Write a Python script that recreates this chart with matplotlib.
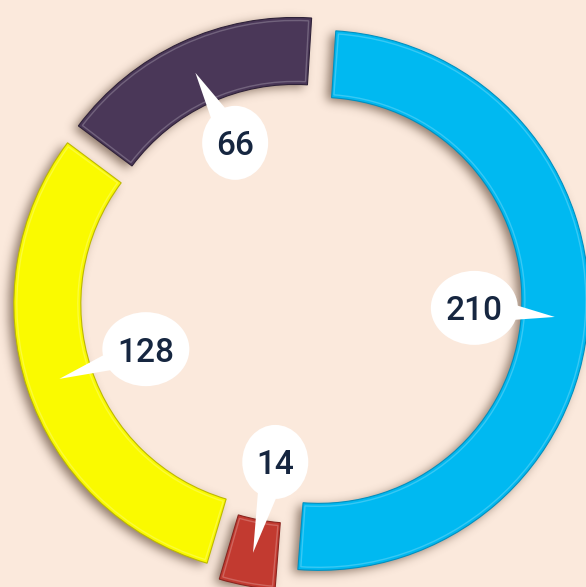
import matplotlib
matplotlib.use("Agg")
import matplotlib.pyplot as plt
import numpy as np
from matplotlib.patches import Wedge, Ellipse, Polygon

# ---- data ----
labels = ["210", "14", "128", "66"]
values = [210, 14, 128, 66]
colors = ["#00B9F1", "#C23A30", "#FAFA00", "#4A3758"]
edge_colors = ["#0090C0", "#8A2520", "#BDB800", "#2F2239"]
explode = [0.07, 0.08, 0.063, 0.047]

BG = "#FBE9DC"
TEXT = "#162640"
W, H = 586, 587
px = 1 / 270.0          # one pixel in data units (outer radius = 270 px)
cx0, cy0 = 300, 299     # pie centre in pixels

fig = plt.figure(figsize=(W / 100, H / 100), dpi=100, facecolor=BG)
ax = fig.add_axes([0, 0, 1, 1])
ax.set_facecolor(BG)

ring_w = 0.248
wedges, _ = ax.pie(values, colors=colors, startangle=86.4, counterclock=False,
                   explode=explode, radius=1.0,
                   wedgeprops=dict(width=ring_w, linewidth=0.8))
for w, ec in zip(wedges, edge_colors):
    w.set_edgecolor(ec)
    w.set_zorder(3)

xmin, xmax = -cx0 * px, (W - cx0) * px
ymin, ymax = -(H - cy0) * px, cy0 * px

# soft blurred drop shadow (raster), computed from the wedge geometry
xs = xmin + (np.arange(W) + 0.5) * px
ys = ymax - (np.arange(H) + 0.5) * px
XX, YY = np.meshgrid(xs, ys)
mask = np.zeros((H, W))
sdx, sdy = -5 * px, -3 * px
for w in wedges:
    c = w.center
    dx = XX - (c[0] + sdx)
    dy = YY - (c[1] + sdy)
    r = np.hypot(dx, dy)
    ang = np.degrees(np.arctan2(dy, dx))
    rel = (ang - w.theta1) % 360
    inside = (r <= w.r) & (r >= w.r - w.width) & (rel <= (w.theta2 - w.theta1))
    mask[inside] = 1.0

def blur(a, s):
    k = np.exp(-0.5 * (np.arange(-3 * s, 3 * s + 1) / s) ** 2)
    k /= k.sum()
    a = np.apply_along_axis(lambda m: np.convolve(m, k, mode="same"), 0, a)
    a = np.apply_along_axis(lambda m: np.convolve(m, k, mode="same"), 1, a)
    return a

sh = blur(mask, 5)
rgba = np.zeros((H, W, 4))
rgba[..., 0] = 0.33
rgba[..., 1] = 0.24
rgba[..., 2] = 0.18
rgba[..., 3] = sh * 0.65
ax.imshow(rgba, extent=(xmin, xmax, ymin, ymax), zorder=1, interpolation="bilinear")

for w in wedges:
    c = w.center
    hl = Wedge(c, w.r - 3 * px, w.theta1 + 0.6, w.theta2 - 0.6, width=w.width - 6 * px,
               facecolor="none", edgecolor="white", linewidth=1.0, alpha=0.22, zorder=4)
    ax.add_patch(hl)

# callout labels
lab_r = 0.625
ox, oy = 6 * px, 3 * px
for w, lab in zip(wedges, labels):
    mid = np.deg2rad((w.theta1 + w.theta2) / 2)
    lx, ly = ox + lab_r * np.cos(mid), oy + lab_r * np.sin(mid)
    rm = w.r - w.width / 2
    tx, ty = w.center[0] + rm * np.cos(mid), w.center[1] + rm * np.sin(mid)
    d = np.array([tx - lx, ty - ly])
    d /= np.hypot(*d)
    perp = np.array([-d[1], d[0]])
    hw = 15 * px
    tri = Polygon([(lx + perp[0] * hw, ly + perp[1] * hw),
                   (lx - perp[0] * hw, ly - perp[1] * hw),
                   (tx, ty)], closed=True, facecolor="white", edgecolor="none", zorder=6)
    ax.add_patch(tri)
    ew = (24 + 21 * len(lab)) * px
    eh = 74 * px
    ax.add_patch(Ellipse((lx, ly), ew, eh, facecolor="white", edgecolor="none", zorder=6))
    ax.text(lx, ly, lab, ha="center", va="center_baseline", fontsize=24,
            family="Roboto", fontweight="medium",
            color=TEXT, zorder=7)

ax.set_xlim(xmin, xmax)
ax.set_ylim(ymin, ymax)
ax.set_aspect("equal")
ax.axis("off")

fig.savefig("out.png", dpi=100, facecolor=BG)
